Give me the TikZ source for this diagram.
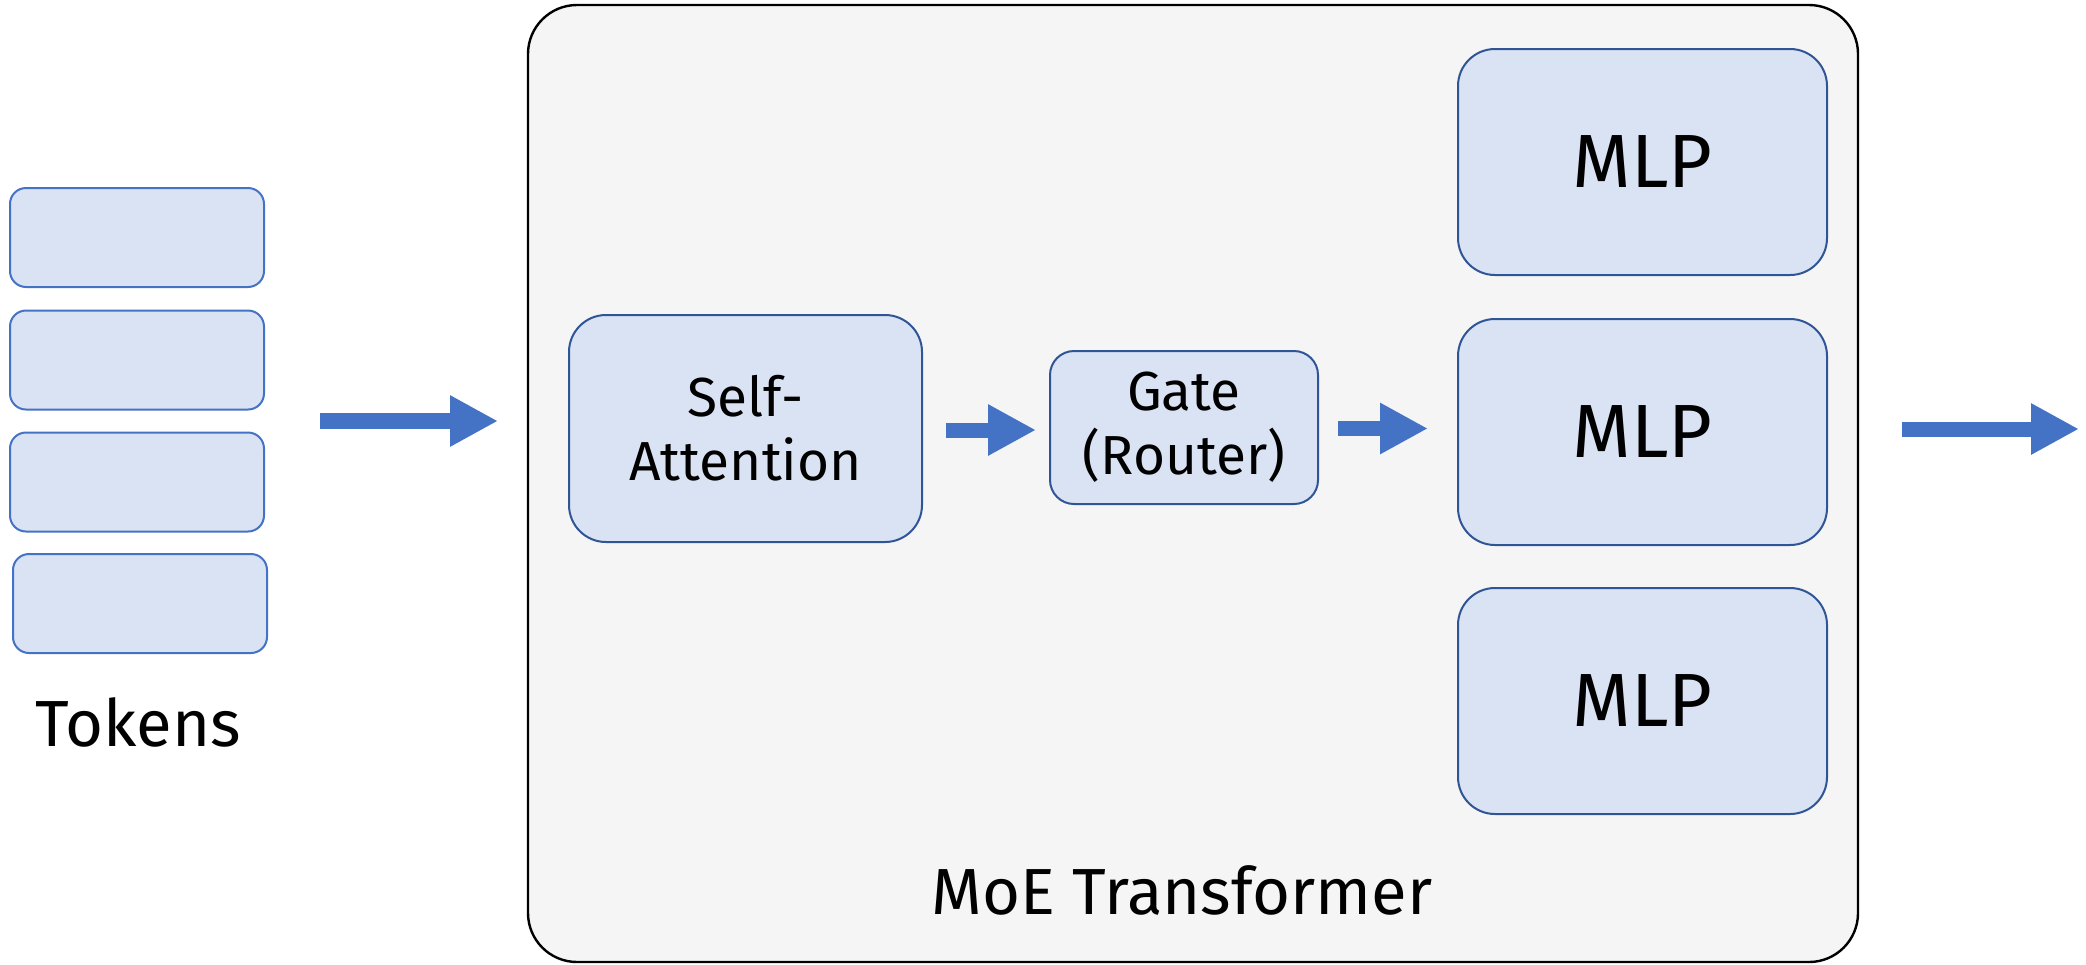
\documentclass[tikz,border=0pt]{standalone}
\usepackage{fontspec}
\setmainfont{Fira Sans}
\usetikzlibrary{arrows.meta}
\definecolor{boxfill}{HTML}{DAE3F3}
\definecolor{tokenedge}{HTML}{4472C4}
\definecolor{blockedge}{HTML}{2F5597}
\definecolor{arrowblue}{HTML}{4472C4}
\definecolor{panel}{HTML}{F5F5F5}
\tikzset{
  token/.style={draw=tokenedge, fill=boxfill, line width=1pt, rounded corners=8pt,
    minimum width=127pt, minimum height=49.5pt, inner sep=0pt},
  block/.style={draw=blockedge, fill=boxfill, line width=1pt, inner sep=0pt, align=center},
  blockarrow/.style={draw=arrowblue, line width=7.5pt,
    -{Triangle[length=24pt, width=24pt]}},
  label/.style={font=\fontsize{32.6pt}{36pt}\selectfont, inner sep=0pt, anchor=base}
}
\begin{document}
\begin{tikzpicture}[x=0.5pt, y=-0.5pt]
\useasboundingbox (0,0) rectangle (2086,964);

% outer panel of the MoE layer
\node[draw=black, fill=panel, line width=1.2pt, rounded corners=24.5pt,
      minimum width=665pt, minimum height=478.5pt, inner sep=0pt] (moe) at (1193,483.5) {};
\node[label] (moelabel) at (1182,914) {MoE Transformer};

% input tokens
\node[token] (t1) at (137,237.5) {};
\node[token] (t2) at (137,360) {};
\node[token] (t3) at (137,482) {};
\node[token] (t4) at (140,603.5) {};
\node[label] (tokens) at (138,746) {Tokens};

% blocks inside the layer
\node[block, rounded corners=18.5pt, minimum width=176.5pt, minimum height=113.5pt,
      font=\fontsize{27.5pt}{32pt}\selectfont] (sa) at (745.5,428.5) {Self-\\Attention};
\node[block, rounded corners=12pt, minimum width=134pt, minimum height=76.5pt,
      font=\fontsize{27.5pt}{32pt}\selectfont] (gate) at (1184,427.5) {Gate\\(Router)};
\foreach \n/\y in {1/162, 2/432, 3/701}{
  \node[block, rounded corners=18.5pt, minimum width=184.5pt, minimum height=113pt,
        font=\fontsize{37.7pt}{40pt}\selectfont] (mlp\n) at (1642.5,\y) {MLP};
}

% flow arrows
\coordinate (inA) at (320,421);
\coordinate (inB) at (498,421);
\draw[blockarrow, line width=8pt] (inA) -- (inB);
\draw[blockarrow] ([xshift=11.5pt,yshift=-0.75pt]sa.east) -- ([xshift=-6.5pt,yshift=-1.25pt]gate.west);
\draw[blockarrow] ([xshift=9.5pt,yshift=-0.5pt]gate.east) -- ([xshift=-14.5pt,yshift=1.75pt]mlp2.west);
\coordinate (outB) at (2079,429);
\draw[blockarrow] ([xshift=21.5pt,yshift=27.25pt]moe.east) -- (outB);
\end{tikzpicture}
\end{document}
